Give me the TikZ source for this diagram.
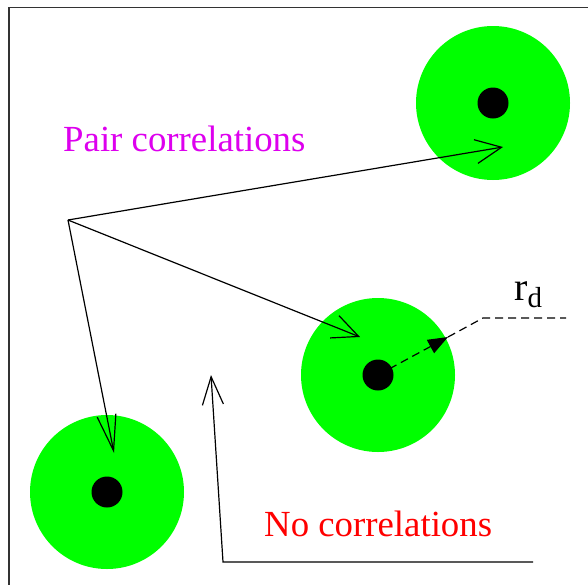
\documentclass[tikz,border=0pt]{standalone}
\usepackage{fontspec}
\setmainfont{Liberation Serif}
\usetikzlibrary{arrows.meta}
\definecolor{pgreen}{RGB}{0,255,0}
\definecolor{pmag}{RGB}{221,0,238}
\definecolor{pred}{RGB}{255,0,0}
\begin{document}
\begin{tikzpicture}[x=1pt,y=-1pt,
  disc/.style={circle,fill=pgreen,minimum size=154pt,inner sep=0pt},
  dot/.style={circle,fill=black,minimum size=31pt,inner sep=0pt},
  conn/.style={line width=1.2pt},
  barb/.style={-{Straight Barb[length=26pt,width=24pt,line width=1.2pt]}},
  lbl/.style={font=\fontsize{36.8}{40}\selectfont,inner sep=0pt,anchor=base west}]
\useasboundingbox (0,0) rectangle (588,584);
% frame
\draw[line width=1.3pt,black!80] (9,620) -- (9,7.5) -- (620,7.5);
% discs
\node[disc] (d1) at (493,103) {};
\node[disc] (d2) at (378,375) {};
\node[disc] (d3) at (107,492) {};
\node[dot] (p1) at (493,103) {};
\node[dot] (p2) at (378,375) {};
\node[dot] (p3) at (107,492) {};
% arrows
\coordinate (o) at (68,220);
\coordinate (t1) at (503,147);
\coordinate (t2) at (360,337);
\coordinate (t3) at (114,453);
\draw[conn,barb] (o) -- (t1);
\draw[conn,barb] (o) -- (t2);
\draw[conn,-{Straight Barb[length=36pt,width=19pt,line width=1.2pt]}] (o) -- (t3);
% radius
\coordinate (rt) at (448,337);
\coordinate (rk) at (483,318);
\coordinate (re) at (566,318);
\draw[line width=1.2pt,dash pattern=on 8pt off 5pt,-{Triangle[length=20pt,width=15pt]}] (p2.center) -- (rt);
\draw[line width=1.2pt,dash pattern=on 8pt off 5pt] (rt) -- (rk) -- (re);
\node[lbl,font=\fontsize{40}{40}\selectfont] (rd) at (514,300) {r\raisebox{-7pt}{\fontsize{29}{29}\selectfont d}};
% no-correlation arrow
\coordinate (b1) at (533,562);
\coordinate (b2) at (223,562);
\coordinate (b3) at (211,375);
\draw[conn,-{Straight Barb[length=28pt,width=21pt,line width=1.2pt]}] (b1) -- (b2) -- (b3);
% labels
\node[lbl,text=pmag] (pc) at (63,151) {Pair correlations};
\node[lbl,text=pred] (nc) at (264,536) {No correlations};
\end{tikzpicture}
\end{document}
